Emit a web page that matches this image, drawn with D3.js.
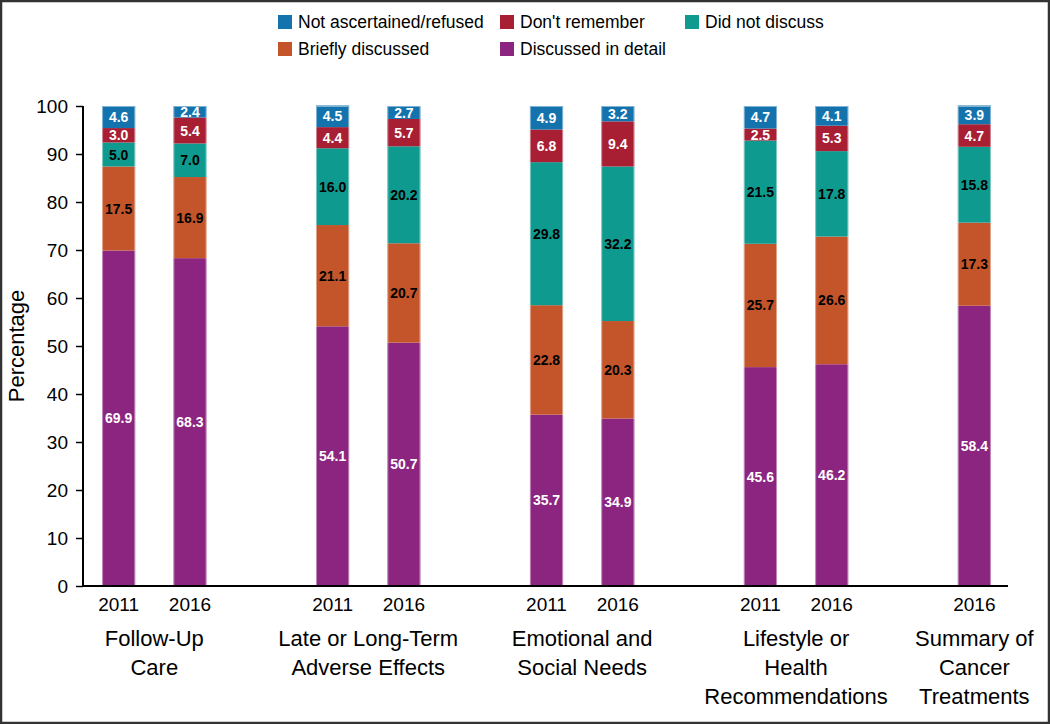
<!DOCTYPE html>
<html><head><meta charset="utf-8">
<script src="https://cdn.jsdelivr.net/npm/d3@7"></script>
<style>body{margin:0;background:#fff}svg{display:block}text{font-family:"Liberation Sans",Arial,sans-serif}</style>
</head><body>
<script>
const categories = [
  ["Follow-Up","Care"],
  ["Late or Long-Term","Adverse Effects"],
  ["Emotional and","Social Needs"],
  ["Lifestyle or","Health","Recommendations"],
  ["Summary of","Cancer","Treatments"]
];
const barYears = ["2011","2016","2011","2016","2011","2016","2011","2016","2016"];
const barCategory = [0,0,1,1,2,2,3,3,4];
const seriesNames = ["Discussed in detail","Briefly discussed","Did not discuss","Don't remember","Not ascertained/refused"];
const discussedDetail = [69.9,68.3,54.1,50.7,35.7,34.9,45.6,46.2,58.4];
const brieflyDiscussed = [17.5,16.9,21.1,20.7,22.8,20.3,25.7,26.6,17.3];
const didNotDiscuss   = [5.0,7.0,16.0,20.2,29.8,32.2,21.5,17.8,15.8];
const dontRemember    = [3.0,5.4,4.4,5.7,6.8,9.4,2.5,5.3,4.7];
const notAscertained  = [4.6,2.4,4.5,2.7,4.9,3.2,4.7,4.1,3.9];
const yTicks = [0,10,20,30,40,50,60,70,80,90,100];
const legendOrder = ["Not ascertained/refused","Don't remember","Did not discuss","Briefly discussed","Discussed in detail"];

const colors = {
  "Discussed in detail":"#8c2580",
  "Briefly discussed":"#c4552a",
  "Did not discuss":"#0f9a8f",
  "Don't remember":"#a81e32",
  "Not ascertained/refused":"#1473ad"
};
const labelColor = {
  "Discussed in detail":"#fff","Briefly discussed":"#000","Did not discuss":"#000",
  "Don't remember":"#fff","Not ascertained/refused":"#fff"
};
const seriesValues = [discussedDetail,brieflyDiscussed,didNotDiscuss,dontRemember,notAscertained];

const W=1050,H=724;
const svg=d3.select("body").append("svg").attr("width",W).attr("height",H);
svg.append("rect").attr("x",1).attr("y",1).attr("width",W-2).attr("height",H-2)
  .attr("fill","#fff").attr("stroke","#333").attr("stroke-width",2.5);

// slots: bars plus blank gap slots between categories
const slots=[];
barYears.forEach((y,i)=>{
  if(i>0 && barCategory[i]!==barCategory[i-1]) slots.push("gap"+i);
  slots.push("b"+i);
});
const x=d3.scaleBand().domain(slots).range([83,1010]).paddingInner(0.535).paddingOuter(0.2675);
const y=d3.scaleLinear().domain([0,100]).range([586,106]);

// stack
const rows=barYears.map((yr,i)=>{const o={key:"b"+i}; seriesNames.forEach((s,k)=>o[s]=seriesValues[k][i]); return o;});
const stacked=d3.stack().keys(seriesNames)(rows);

const g=svg.append("g");
stacked.forEach(layer=>{
  const s=layer.key;
  g.selectAll(null).data(layer).enter().append("rect")
    .attr("x",d=>x(d.data.key)).attr("width",x.bandwidth())
    .attr("y",d=>y(d[1])).attr("height",d=>y(d[0])-y(d[1]))
    .attr("fill",colors[s]);
  g.selectAll(null).data(layer).enter().append("text")
    .attr("x",d=>x(d.data.key)+x.bandwidth()/2)
    .attr("y",d=>(y(d[0])+y(d[1]))/2)
    .attr("dy","0.36em").attr("text-anchor","middle")
    .attr("font-size",14).attr("font-weight","bold")
    .attr("fill",labelColor[s])
    .text(d=>(d[1]-d[0]).toFixed(1));
});
// light edges
g.selectAll(null).data(rows).enter().append("rect")
  .attr("x",d=>x(d.key)+0.5).attr("width",x.bandwidth()-1)
  .attr("y",y(100)+0.5).attr("height",y(0)-y(100)-1)
  .attr("fill","none").attr("stroke","#fff").attr("stroke-opacity",0.45).attr("stroke-width",1);

// y axis
const yAxis=svg.append("g").attr("transform","translate(83,0)")
  .call(d3.axisLeft(y).tickValues(yTicks).tickSize(7).tickPadding(8));
yAxis.select(".domain").attr("stroke","#000").attr("stroke-width",2).attr("d","M0,"+y(100)+"V"+y(0));
yAxis.selectAll(".tick line").attr("stroke","#000").attr("stroke-width",1.5);
yAxis.selectAll(".tick text").attr("font-size",19).attr("fill","#000").attr("font-family","Liberation Sans, Arial, sans-serif");

// x axis
const xAxis=svg.append("g").attr("transform","translate(0,"+y(0)+")")
  .call(d3.axisBottom(x).tickSize(0).tickPadding(12).tickFormat(k=>k.startsWith("b")?barYears[+k.slice(1)]:""));
xAxis.select(".domain").attr("stroke","#000").attr("stroke-width",2).attr("d","M82,0H1008");
xAxis.selectAll(".tick text").attr("font-size",19).attr("fill","#000").attr("font-family","Liberation Sans, Arial, sans-serif");

// category labels
categories.forEach((lines,c)=>{
  const idx=barCategory.map((v,i)=>v===c?i:-1).filter(i=>i>=0);
  const cx=d3.mean(idx,i=>x("b"+i)+x.bandwidth()/2);
  const t=svg.append("text").attr("text-anchor","middle").attr("font-size",22).attr("fill","#000");
  lines.forEach((ln,j)=>t.append("tspan").attr("x",cx).attr("y",646+j*29).text(ln));
});

// y title
svg.append("text").attr("transform","translate(24,346) rotate(-90)").attr("text-anchor","middle")
  .attr("font-size",22).attr("fill","#000").text("Percentage");

// legend
const legPos={"Not ascertained/refused":[278,22],"Don't remember":[500,22],"Did not discuss":[685,22],
  "Briefly discussed":[278,49],"Discussed in detail":[500,49]};
legendOrder.forEach(s=>{
  const [lx,ly]=legPos[s];
  svg.append("rect").attr("x",lx).attr("y",ly-7).attr("width",14).attr("height",14).attr("fill",colors[s]);
  svg.append("text").attr("x",lx+20).attr("y",ly).attr("dy","0.35em").attr("font-size",17.5).attr("fill","#000").text(s);
});
</script>
</body></html>
